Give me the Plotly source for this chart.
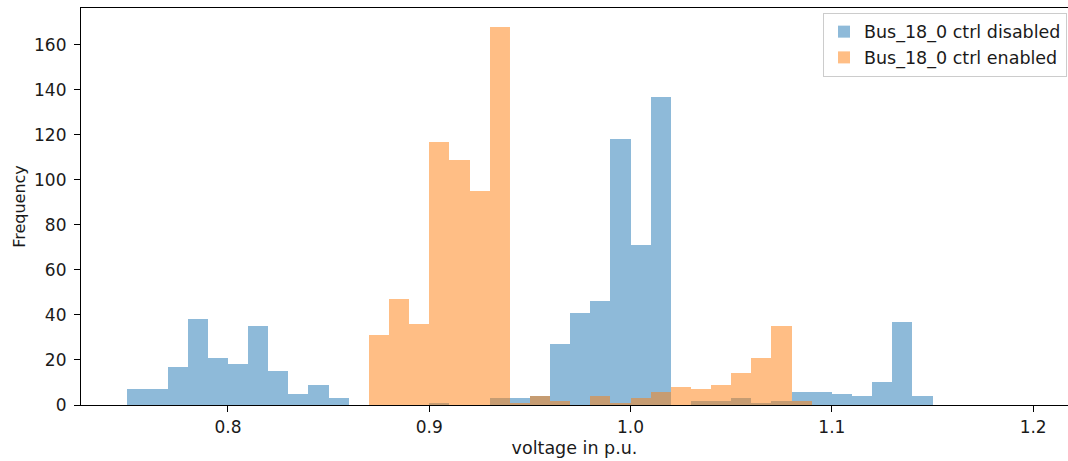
import plotly.graph_objects as go

# Histogram bins (left edges, width 0.01 p.u.)
bin_left = [0.75, 0.76, 0.77, 0.78, 0.79, 0.80, 0.81, 0.82, 0.83, 0.84,
            0.85, 0.86, 0.87, 0.88, 0.89, 0.90, 0.91, 0.92, 0.93, 0.94,
            0.95, 0.96, 0.97, 0.98, 0.99, 1.00, 1.01, 1.02, 1.03, 1.04,
            1.05, 1.06, 1.07, 1.08, 1.09, 1.10, 1.11, 1.12, 1.13, 1.14,
            1.15, 1.16, 1.17, 1.18, 1.19]
bin_width = 0.01

counts_disabled = [7, 7, 17, 38, 21, 18, 35, 15, 5, 9,
                   3, 0, 0, 0, 0, 1, 0, 0, 3, 3,
                   4, 27, 41, 46, 118, 71, 137, 0, 2, 2,
                   3, 1, 2, 6, 6, 5, 4, 10, 37, 4,
                   0, 0, 0, 0, 0]
counts_enabled = [0, 0, 0, 0, 0, 0, 0, 0, 0, 0,
                  0, 0, 31, 47, 36, 117, 109, 95, 168, 1,
                  4, 2, 0, 4, 1, 3, 6, 8, 7, 9,
                  14, 21, 35, 2, 0, 0, 0, 0, 0, 0,
                  0, 0, 0, 0, 0]

name_disabled = "Bus_18_0 ctrl disabled"
name_enabled = "Bus_18_0 ctrl enabled"

x_ticks = [0.8, 0.9, 1.0, 1.1, 1.2]
y_ticks = [0, 20, 40, 60, 80, 100, 120, 140, 160]

FONT = "DejaVu Sans"
FS = 17
TXT = "#1a1a1a"

fig = go.Figure()
fig.add_trace(go.Bar(
    x=bin_left, y=counts_disabled, width=bin_width, offset=0,
    name=name_disabled, marker=dict(color="#1f77b4", line=dict(width=0)),
    opacity=0.5,
))
fig.add_trace(go.Bar(
    x=bin_left, y=counts_enabled, width=bin_width, offset=0,
    name=name_enabled, marker=dict(color="#ff7f0e", line=dict(width=0)),
    opacity=0.5,
))

fig.update_layout(
    width=1068, height=461,
    margin=dict(l=81, r=0, t=8, b=56, autoexpand=False),
    paper_bgcolor="white", plot_bgcolor="white",
    barmode="overlay", bargap=0,
    font=dict(family=FONT, size=FS, color=TXT),
    showlegend=True,
    legend=dict(
        x=0.999, xanchor="right", y=0.988, yanchor="top",
        bgcolor="rgba(255,255,255,0.8)", bordercolor="#cccccc", borderwidth=1,
        font=dict(family=FONT, size=17.5, color=TXT),
        traceorder="normal",
    ),
    xaxis=dict(
        range=[0.727, 1.2173], automargin=False,
        tickvals=x_ticks, ticktext=[f"{v:.1f}" for v in x_ticks],
        showgrid=False, zeroline=False,
        showline=True, linecolor="#000000", linewidth=1.2, mirror=True,
        ticks="outside", ticklen=6, tickwidth=1.2, tickcolor="#000000",
        tickfont=dict(family=FONT, size=FS, color=TXT),
        title=dict(text="voltage in p.u.", font=dict(family=FONT, size=17.5, color=TXT), standoff=6),
    ),
    yaxis=dict(
        range=[0, 176.4], automargin=False,
        tickvals=y_ticks,
        showgrid=False, zeroline=False,
        showline=True, linecolor="#000000", linewidth=1.2, mirror=False,
        ticks="outside", ticklen=6, tickwidth=1.2, tickcolor="#000000",
        ticklabelstandoff=4,
        tickfont=dict(family=FONT, size=FS, color=TXT),
        title=dict(text="Frequency", font=dict(family=FONT, size=16, color=TXT), standoff=4),
    ),
)

fig.write_html(
    "out.html",
    config={"displayModeBar": False},
    post_script="document.body.style.margin='0';document.body.style.overflow='hidden';",
)
